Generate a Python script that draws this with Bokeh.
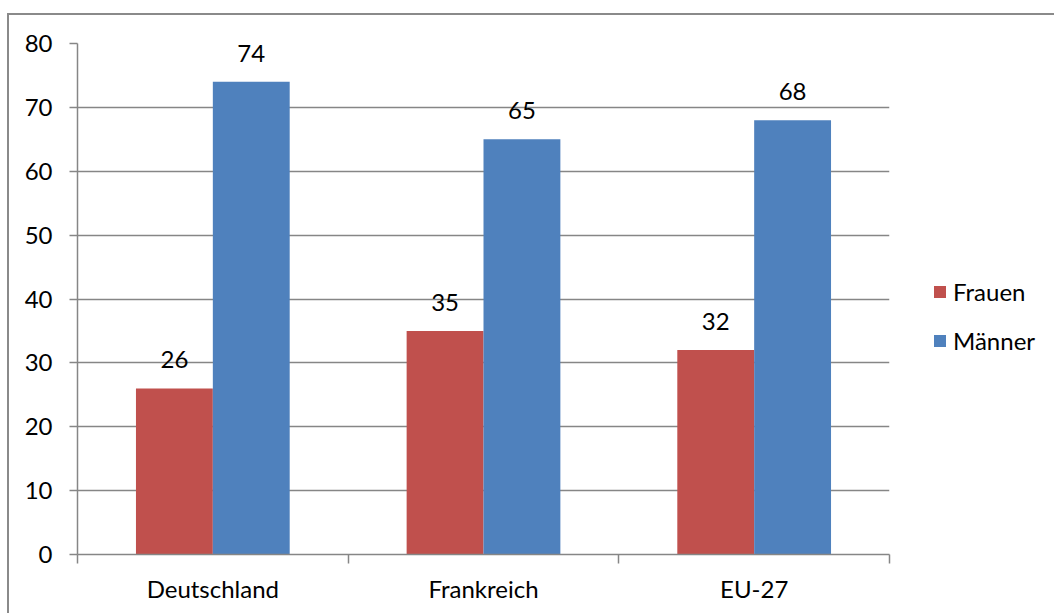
from bokeh.plotting import figure
from bokeh.models import (ColumnDataSource, FixedTicker, Legend, LegendItem,
                          LabelSet, Range1d)
from bokeh.core.properties import value
from bokeh.embed import file_html
from bokeh.resources import INLINE

# Data
categories = ["Deutschland", "Frankreich", "EU-27"]
frauen = [26, 35, 32]
maenner = [74, 65, 68]
y_ticks = [0, 10, 20, 30, 40, 50, 60, 70, 80]

RED = "#C0504D"
BLUE = "#4F81BD"
GRID = "#868686"
FONT = "Lato"
FSIZE = "24px"

bar_w = 0.284
centers = [i + 0.5 for i in range(len(categories))]

src = ColumnDataSource(dict(
    x_f=[c - bar_w / 2 for c in centers],
    x_m=[c + bar_w / 2 for c in centers],
    frauen=frauen,
    maenner=maenner,
    lf=[str(v) for v in frauen],
    lm=[str(v) for v in maenner],
))

p = figure(
    width=1045, height=598,
    frame_width=812, frame_height=511,
    min_border_left=68, min_border_top=28,
    min_border_right=165, min_border_bottom=59,
    x_range=Range1d(0, len(categories)),
    y_range=Range1d(y_ticks[0], y_ticks[-1]),
    output_backend="svg", toolbar_location=None,
)
p.styles = {
    "margin-left": "7px",
    "margin-top": "13px",
    "border-left": "2px solid #8a8a8a",
    "border-top": "2px solid #8a8a8a",
}
p.outline_line_color = None
p.background_fill_color = "white"
p.border_fill_color = "white"

r_f = p.vbar(x="x_f", top="frauen", width=bar_w, source=src,
             fill_color=RED, line_color=None)
r_m = p.vbar(x="x_m", top="maenner", width=bar_w, source=src,
             fill_color=BLUE, line_color=None)

# value labels above bars
for xcol, ycol, tcol in (("x_f", "frauen", "lf"), ("x_m", "maenner", "lm")):
    p.add_layout(LabelSet(
        x=xcol, y=ycol, text=tcol, source=src,
        text_align="center", text_baseline="alphabetic", y_offset=20,
        text_font=value(FONT), text_font_size=value(FSIZE),
        text_color="black",
    ))

# y axis
yax = p.yaxis[0]
yax.ticker = FixedTicker(ticks=y_ticks)
yax.major_tick_in = 0
yax.major_tick_out = 8
yax.minor_tick_line_color = None
yax.major_tick_line_color = GRID
yax.axis_line_color = GRID
yax.axis_line_width = 1.5
yax.major_tick_line_width = 1.5
yax.major_label_standoff = 17
yax.major_label_text_font = FONT
yax.major_label_text_font_size = FSIZE
yax.major_label_text_color = "black"

# x axis: labels at category centres, ticks between categories
xax = p.xaxis[0]
xax.ticker = FixedTicker(ticks=centers,
                         minor_ticks=list(range(len(categories) + 1)))
xax.major_label_overrides = {c: name for c, name in zip(centers, categories)}
xax.major_tick_line_color = None
xax.major_tick_in = 0
xax.major_tick_out = 0
xax.minor_tick_in = 0
xax.minor_tick_out = 9
xax.minor_tick_line_color = GRID
xax.minor_tick_line_width = 1.5
xax.axis_line_color = GRID
xax.axis_line_width = 1.5
xax.major_label_standoff = 10
xax.major_label_text_font = FONT
xax.major_label_text_font_size = FSIZE
xax.major_label_text_color = "black"

p.xgrid.grid_line_color = None
p.ygrid.ticker = FixedTicker(ticks=y_ticks)
p.ygrid.grid_line_color = GRID
p.ygrid.grid_line_width = 1.5

legend = Legend(
    items=[LegendItem(label="Frauen", renderers=[r_f]),
           LegendItem(label="Männer", renderers=[r_m])],
    location=(43, 199),
    margin=0, padding=0, spacing=20,
    glyph_width=15, glyph_height=15, label_standoff=6,
    label_text_font=FONT, label_text_font_size=FSIZE,
    label_text_color="black",
    border_line_color=None, background_fill_alpha=0,
)
p.add_layout(legend, "right")

open("out.html", "w").write(file_html(p, INLINE))
